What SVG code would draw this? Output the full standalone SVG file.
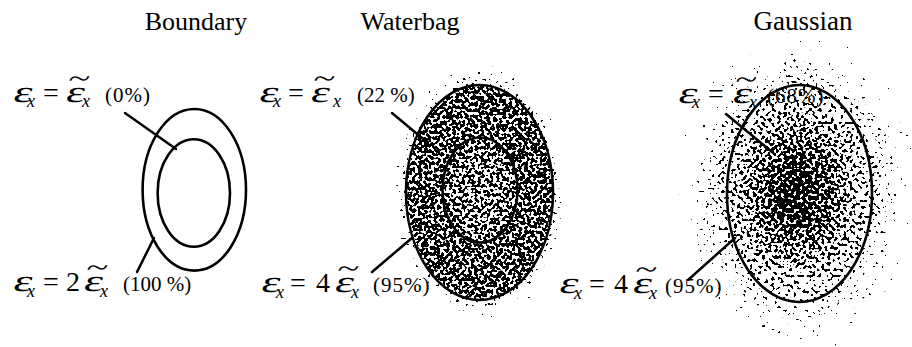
<svg xmlns="http://www.w3.org/2000/svg" width="912" height="347" viewBox="0 0 912 347">
<style>
.t{font-family:"Liberation Serif","Times New Roman",serif;fill:#000}
.ti{font-size:26px;text-anchor:middle}
.eps{font-size:30px}
.tld{font-size:26px}
.sub{font-style:italic;font-size:18px}
.eq{font-size:28px}
.pc{font-size:21px;letter-spacing:1px}
.ln{stroke:#000;stroke-width:2.5;fill:none;stroke-linecap:round}
.el{stroke:#000;stroke-width:2.6;fill:none}
</style>
<defs>
<filter id="dots" filterUnits="userSpaceOnUse" x="0" y="0" width="912" height="347" color-interpolation-filters="sRGB">
<feTurbulence type="fractalNoise" baseFrequency="0.32" numOctaves="1" seed="7" result="t"/>
<feColorMatrix in="t" type="matrix" values="0 0 0 0 0 0 0 0 0 0 0 0 0 0 0 1 0 0 0 0" result="n"/>
<feComposite in="SourceAlpha" in2="n" operator="arithmetic" k1="0" k2="80" k3="-80" k4="0"/>
</filter>
<radialGradient id="gWater" cx="0.5" cy="0.5" r="0.5">
<stop offset="0" stop-color="#000" stop-opacity="0.5"/>
<stop offset="0.3" stop-color="#000" stop-opacity="0.505"/>
<stop offset="0.45" stop-color="#000" stop-opacity="0.535"/>
<stop offset="0.72" stop-color="#000" stop-opacity="0.545"/>
<stop offset="0.82" stop-color="#000" stop-opacity="0.53"/>
<stop offset="0.84" stop-color="#000" stop-opacity="0.4"/>
<stop offset="0.87" stop-color="#000" stop-opacity="0.34"/>
<stop offset="0.91" stop-color="#000" stop-opacity="0.3"/>
<stop offset="0.95" stop-color="#000" stop-opacity="0.27"/>
<stop offset="0.995" stop-color="#000" stop-opacity="0.24"/>
<stop offset="1" stop-color="#000" stop-opacity="0"/>
</radialGradient>
<radialGradient id="gGauss" cx="0.5" cy="0.5" r="0.5">
<stop offset="0" stop-color="#000" stop-opacity="0.62"/>
<stop offset="0.1" stop-color="#000" stop-opacity="0.6"/>
<stop offset="0.2" stop-color="#000" stop-opacity="0.565"/>
<stop offset="0.3" stop-color="#000" stop-opacity="0.52"/>
<stop offset="0.4" stop-color="#000" stop-opacity="0.48"/>
<stop offset="0.5" stop-color="#000" stop-opacity="0.44"/>
<stop offset="0.6" stop-color="#000" stop-opacity="0.4"/>
<stop offset="0.7" stop-color="#000" stop-opacity="0.335"/>
<stop offset="0.8" stop-color="#000" stop-opacity="0.29"/>
<stop offset="0.9" stop-color="#000" stop-opacity="0.255"/>
<stop offset="0.995" stop-color="#000" stop-opacity="0.225"/>
<stop offset="1" stop-color="#000" stop-opacity="0"/>
</radialGradient>
</defs>
<rect width="912" height="347" fill="#fff"/>

<g id="scatter" filter="url(#dots)">
<ellipse cx="480" cy="192" rx="88" ry="129" fill="url(#gWater)"/>
<ellipse cx="797" cy="192" rx="125" ry="168" fill="url(#gGauss)"/>
</g>

<g id="titles">
<text class="t ti" x="196" y="30">Boundary</text>
<text class="t ti" x="410" y="30">Waterbag</text>
<text class="t ti" x="803" y="30" style="font-size:27px">Gaussian</text>
</g>

<g id="boundary">
<ellipse class="el" cx="194.3" cy="189.8" rx="51.7" ry="80.8"/>
<ellipse class="el" cx="193.8" cy="193" rx="36.2" ry="53.7"/>
</g>
<g id="waterbag">
<ellipse class="el" cx="479.5" cy="192.5" rx="73.5" ry="107.5"/>
<ellipse class="el" cx="480" cy="190" rx="37.5" ry="52.5"/>
</g>
<g id="gaussian">
<ellipse class="el" cx="799.5" cy="193.5" rx="72.5" ry="108.5"/>
</g>

<g id="connectors">
<line class="ln" x1="125" y1="113" x2="176" y2="149"/>
<line class="ln" x1="137" y1="272" x2="154" y2="238"/>
<line class="ln" x1="392" y1="113" x2="428" y2="143"/>
<line class="ln" x1="372" y1="272" x2="412" y2="238"/>
<line class="ln" x1="726" y1="114" x2="772" y2="152"/>
<line class="ln" x1="688" y1="280" x2="735" y2="238"/>
</g>

<g id="label-b1">
<text class="t eps" transform="translate(12,102) skewX(-14) scale(1.5,1)">ε</text>
<text class="t sub" x="27" y="107">x</text>
<text class="t eq" x="43" y="102">=</text>
<text class="t eps" transform="translate(63,102) skewX(-14) scale(1.5,1)">ε<tspan class="tld" dx="-13.6" dy="-15">~</tspan></text>
<text class="t sub" x="82" y="107">x</text>
<text class="t pc" x="105" y="102">(0%)</text>
</g>
<g id="label-b2">
<text class="t eps" transform="translate(12,291) skewX(-14) scale(1.5,1)">ε</text>
<text class="t sub" x="27" y="297">x</text>
<text class="t eq" x="43" y="291">=</text>
<text class="t eq" x="66" y="291">2</text>
<text class="t eps" transform="translate(81,291) skewX(-14) scale(1.5,1)">ε<tspan class="tld" dx="-13.6" dy="-15">~</tspan></text>
<text class="t sub" x="100" y="297">x</text>
<text class="t pc" x="123" y="291" style="letter-spacing:0">(100 %)</text>
</g>
<g id="label-w1">
<text class="t eps" transform="translate(258,102) skewX(-14) scale(1.5,1)">ε</text>
<text class="t sub" x="273" y="107">x</text>
<text class="t eq" x="288" y="102">=</text>
<text class="t eps" transform="translate(308,102) skewX(-14) scale(1.5,1)">ε<tspan class="tld" dx="-13.6" dy="-15">~</tspan></text>
<text class="t sub" x="333" y="107">x</text>
<text class="t pc" x="357" y="102" style="letter-spacing:0">(22 %)</text>
</g>
<g id="label-w2">
<text class="t eps" transform="translate(260,292) skewX(-14) scale(1.5,1)">ε</text>
<text class="t sub" x="276" y="298">x</text>
<text class="t eq" x="290" y="292">=</text>
<text class="t eq" x="316" y="292">4</text>
<text class="t eps" transform="translate(332,292) skewX(-14) scale(1.5,1)">ε<tspan class="tld" dx="-13.6" dy="-15">~</tspan></text>
<text class="t sub" x="351" y="298">x</text>
<text class="t pc" x="373" y="292">(95%)</text>
</g>
<g id="label-g1">
<text class="t eps" transform="translate(677,103) skewX(-14) scale(1.5,1)">ε</text>
<text class="t sub" x="692" y="108">x</text>
<text class="t eq" x="708" y="103">=</text>
<text class="t eps" transform="translate(730,103) skewX(-14) scale(1.5,1)">ε<tspan class="tld" dx="-13.6" dy="-15">~</tspan></text>
<text class="t sub" x="749" y="108">x</text>
<text class="t pc" x="767" y="103">(68%)</text>
</g>
<g id="label-g2">
<text class="t eps" transform="translate(558,293) skewX(-14) scale(1.5,1)">ε</text>
<text class="t sub" x="574" y="299">x</text>
<text class="t eq" x="589" y="293">=</text>
<text class="t eq" x="614" y="293">4</text>
<text class="t eps" transform="translate(630,293) skewX(-14) scale(1.5,1)">ε<tspan class="tld" dx="-13.6" dy="-15">~</tspan></text>
<text class="t sub" x="649" y="299">x</text>
<text class="t pc" x="665" y="293">(95%)</text>
</g>
</svg>
